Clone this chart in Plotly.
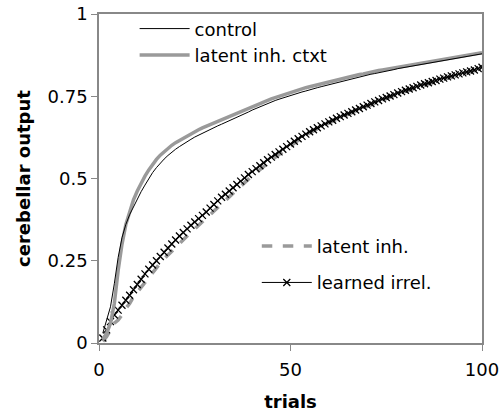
import plotly.graph_objects as go

trials = list(range(1, 101))

control = [0.03, 0.07, 0.11, 0.18, 0.26, 0.32, 0.36, 0.39, 0.415, 0.44,
           0.46, 0.48, 0.50, 0.518, 0.533, 0.547, 0.559, 0.57, 0.58, 0.589,
           0.597, 0.605, 0.612, 0.619, 0.626, 0.632, 0.638, 0.644, 0.65, 0.655,
           0.66, 0.665, 0.67, 0.675, 0.68, 0.686, 0.691, 0.697, 0.702, 0.708,
           0.713, 0.719, 0.724, 0.729, 0.733, 0.737, 0.741, 0.745, 0.749, 0.752,
           0.756, 0.759, 0.763, 0.766, 0.77, 0.773, 0.776, 0.779, 0.782, 0.785,
           0.789, 0.792, 0.795, 0.798, 0.80, 0.803, 0.806, 0.809, 0.812, 0.815,
           0.817, 0.819, 0.821, 0.823, 0.825, 0.828, 0.831, 0.834, 0.836, 0.838,
           0.840, 0.842, 0.844, 0.846, 0.848, 0.850, 0.852, 0.854, 0.856, 0.858,
           0.861, 0.863, 0.865, 0.867, 0.869, 0.871, 0.873, 0.875, 0.877, 0.879]

latent_ctxt = [0.01, 0.03, 0.06, 0.12, 0.22, 0.30, 0.36, 0.40, 0.435, 0.462,
               0.486, 0.507, 0.526, 0.543, 0.558, 0.571, 0.582, 0.592, 0.601, 0.609,
               0.616, 0.623, 0.63, 0.636, 0.642, 0.648, 0.654, 0.659, 0.664, 0.669,
               0.674, 0.679, 0.684, 0.689, 0.694, 0.699, 0.704, 0.709, 0.714, 0.719,
               0.724, 0.729, 0.734, 0.738, 0.742, 0.746, 0.75, 0.754, 0.758, 0.762,
               0.765, 0.769, 0.772, 0.776, 0.779, 0.782, 0.785, 0.788, 0.791, 0.794,
               0.797, 0.80, 0.803, 0.805, 0.808, 0.811, 0.813, 0.816, 0.818, 0.821,
               0.823, 0.826, 0.828, 0.83, 0.832, 0.835, 0.837, 0.839, 0.841, 0.843,
               0.845, 0.847, 0.849, 0.851, 0.853, 0.855, 0.857, 0.859, 0.861, 0.862,
               0.864, 0.866, 0.868, 0.87, 0.872, 0.874, 0.876, 0.878, 0.88, 0.882]

latent_inh = [0.005, 0.02, 0.04, 0.06, 0.07, 0.085, 0.105, 0.12, 0.14, 0.155,
              0.17, 0.186, 0.20, 0.215, 0.23, 0.243, 0.256, 0.268, 0.28, 0.292,
              0.303, 0.314, 0.325, 0.336, 0.347, 0.357, 0.367, 0.377, 0.388, 0.399,
              0.41, 0.421, 0.432, 0.443, 0.454, 0.465, 0.476, 0.487, 0.498, 0.508,
              0.518, 0.528, 0.537, 0.546, 0.555, 0.564, 0.573, 0.582, 0.591, 0.60,
              0.609, 0.617, 0.625, 0.632, 0.639, 0.645, 0.651, 0.657, 0.663, 0.669,
              0.674, 0.68, 0.685, 0.69, 0.695, 0.70, 0.705, 0.71, 0.715, 0.72,
              0.725, 0.73, 0.734, 0.739, 0.743, 0.748, 0.752, 0.757, 0.761, 0.765,
              0.769, 0.773, 0.777, 0.781, 0.785, 0.788, 0.792, 0.795, 0.799, 0.802,
              0.806, 0.809, 0.812, 0.815, 0.818, 0.821, 0.824, 0.827, 0.831, 0.835]

learned_irrel = [0.015, 0.04, 0.065, 0.085, 0.10, 0.115, 0.13, 0.145, 0.162, 0.178,
                 0.194, 0.21, 0.224, 0.237, 0.25, 0.263, 0.276, 0.289, 0.301, 0.313,
                 0.325, 0.336, 0.347, 0.358, 0.368, 0.378, 0.388, 0.398, 0.41, 0.421,
                 0.432, 0.443, 0.452, 0.462, 0.472, 0.482, 0.492, 0.502, 0.512, 0.521,
                 0.53, 0.539, 0.548, 0.557, 0.565, 0.573, 0.581, 0.589, 0.597, 0.605,
                 0.613, 0.621, 0.628, 0.635, 0.642, 0.648, 0.654, 0.66, 0.666, 0.672,
                 0.677, 0.683, 0.688, 0.693, 0.698, 0.703, 0.708, 0.713, 0.718, 0.723,
                 0.728, 0.733, 0.737, 0.742, 0.746, 0.751, 0.755, 0.76, 0.764, 0.768,
                 0.772, 0.776, 0.78, 0.784, 0.788, 0.791, 0.795, 0.798, 0.802, 0.805,
                 0.809, 0.812, 0.815, 0.818, 0.821, 0.824, 0.827, 0.83, 0.834, 0.838]

x_ticks = [0, 50, 100]
y_ticks = [0, 0.25, 0.5, 0.75, 1]
y_tick_labels = ["0", "0.25", "0.5", "0.75", "1"]

FONT = "DejaVu Sans, Verdana, sans-serif"
GRAY = "#9a9a9a"

fig = go.Figure()
fig.add_trace(go.Scatter(x=trials, y=latent_inh, mode="lines", name="latent inh.",
                         line=dict(color=GRAY, width=3.5, dash="dash"),
                         legend="legend2", legendgroup="a"))
fig.add_trace(go.Scatter(x=trials, y=learned_irrel, mode="lines+markers", name="learned irrel.",
                         line=dict(color="black", width=1),
                         marker=dict(symbol="x-thin", size=7, line=dict(color="black", width=1.3)),
                         legend="legend2", legendgroup="b"))
fig.add_trace(go.Scatter(x=trials, y=latent_ctxt, mode="lines", name="latent inh. ctxt",
                         line=dict(color=GRAY, width=3.5), legend="legend"))
fig.add_trace(go.Scatter(x=trials, y=control, mode="lines", name="control",
                         line=dict(color="black", width=1), legend="legend"))

fig.update_layout(
    width=500, height=412,
    margin=dict(l=99, r=18, t=14, b=69, autoexpand=False),
    paper_bgcolor="white", plot_bgcolor="white",
    font=dict(family=FONT, size=18, color="black"),
    showlegend=True,
    legend=dict(x=0.093, y=1.011, xanchor="left", yanchor="top", traceorder="reversed",
                bgcolor="rgba(0,0,0,0)", font=dict(size=18), itemwidth=50,
                tracegroupgap=0),
    legend2=dict(x=0.412, y=0.35, xanchor="left", yanchor="top",
                 bgcolor="rgba(0,0,0,0)", font=dict(size=18), itemwidth=50,
                 tracegroupgap=10),
    xaxis=dict(range=[0, 100], tickvals=x_ticks, ticktext=[str(v) for v in x_ticks],
               showgrid=False, zeroline=False, showline=True, linecolor="#888",
               linewidth=1.5, mirror=True, ticks="outside", ticklen=6, tickcolor="#888",
               tickfont=dict(size=18), ticklabelstandoff=4, automargin=False,
               title=dict(text="<b>trials</b>", font=dict(size=18), standoff=18)),
    yaxis=dict(range=[0, 1], tickvals=y_ticks, ticktext=y_tick_labels,
               showgrid=False, zeroline=False, showline=True, linecolor="#888",
               linewidth=1.5, mirror=True, ticks="outside", ticklen=6, tickcolor="#888",
               tickfont=dict(size=18), automargin=False,
               title=dict(text="<b>cerebellar output</b>", font=dict(size=18), standoff=12)),
)

fig.write_html("out.html")
